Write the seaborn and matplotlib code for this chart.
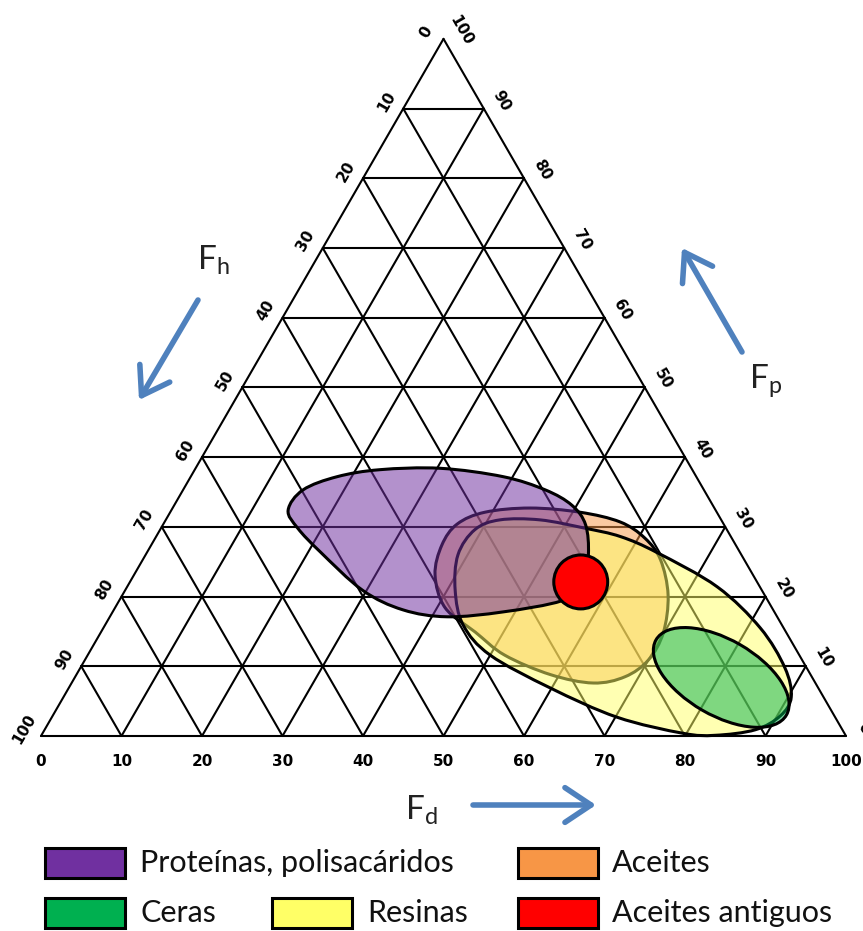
import numpy as np
import pandas as pd
import matplotlib
matplotlib.use("Agg")
import matplotlib.pyplot as plt
from matplotlib.path import Path
from matplotlib.patches import PathPatch, Ellipse, Rectangle
from matplotlib.colors import to_rgba
import seaborn as sns

# ---------------- data ----------------
ticks = [0, 10, 20, 30, 40, 50, 60, 70, 80, 90, 100]
grid_steps = [10, 20, 30, 40, 50, 60, 70, 80, 90]

categories = ["Proteínas, polisacáridos", "Aceites", "Ceras", "Resinas", "Aceites antiguos"]
cat_colors = ["#7030A0", "#F79646", "#00B050", "#FFFF66", "#FF0000"]

# region outlines, ternary coordinates (Fd, Fp); Fh = 100 - Fd - Fp
prot_fd = [14.5, 14.9, 18.2, 23.0, 30.4, 38.8, 45.0, 49.4, 52.5, 55.0, 56.5, 55.0, 48.5, 41.9, 35.9, 29.5, 21.5, 17.0]
prot_fp = [32.4, 35.3, 37.2, 38.2, 38.4, 37.2, 35.3, 33.1, 30.3, 26.0, 21.7, 19.4, 17.8, 17.1, 18.1, 20.9, 26.4, 29.8]

oil_fd = [37.4, 36.1, 36.5, 39.1, 44.4, 50.9, 56.6, 60.8, 64.3, 67.8, 69.9, 70.0, 68.3, 64.8, 58.9, 51.8, 46.5, 41.0]
oil_fp = [23.1, 27.4, 30.4, 32.1, 32.7, 32.1, 30.7, 28.4, 25.3, 20.2, 14.8, 10.9, 8.5, 7.6, 8.8, 11.6, 14.9, 18.4]

resin_fd = [41.0, 38.8, 39.1, 41.5, 46.5, 52.7, 57.7, 63.4, 73.3, 81.6, 87.5, 90.4, 90.4, 88.3, 83.7, 79.5, 70.2, 59.8, 50.0, 44.5]
resin_fp = [20.9, 26.0, 29.6, 31.0, 31.0, 29.8, 28.6, 26.3, 21.4, 15.5, 9.8, 5.6, 2.9, 0.9, 0.1, 0.4, 2.7, 6.9, 11.6, 15.9]

wax_center = (80.3, 8.4)      # (Fd, Fp)
wax_size = (18.7, 9.4)        # width, height in Fd units
wax_angle = -30.0

old_oil_center = (56.0, 22.1)
old_oil_diam = 6.7

# ---------------- helpers ----------------
SQ = np.sqrt(3) / 2
W, H = 863, 931
PXU = 8.05  # pixels per Fd unit


def tern(fd, fp):
    fd = np.asarray(fd, float)
    fp = np.asarray(fp, float)
    return fd + fp / 2.0, fp * SQ


def smooth_closed(xs, ys):
    pts = np.column_stack([xs, ys])
    n = len(pts)
    verts = [pts[0]]
    codes = [Path.MOVETO]
    for i in range(n):
        p0, p1, p2, p3 = pts[(i - 1) % n], pts[i], pts[(i + 1) % n], pts[(i + 2) % n]
        c1 = p1 + (p2 - p0) / 6.0
        c2 = p2 - (p3 - p1) / 6.0
        verts += [c1, c2, p2]
        codes += [Path.CURVE4] * 3
    verts.append(pts[0])
    codes.append(Path.CLOSEPOLY)
    return Path(verts, codes)


def fpx(px, py):
    return px / W, 1 - py / H


# ---------------- figure ----------------
sns.set_theme(style="white")
plt.rcParams["font.family"] = ["DejaVu Sans"]
plt.rcParams["mathtext.fontset"] = "custom"
plt.rcParams["mathtext.rm"] = "Lato"
plt.rcParams["mathtext.it"] = "Lato:italic"

fig = plt.figure(figsize=(W / 100, H / 100), dpi=100)
ax = fig.add_axes([0, 0, 1, 1])
ax.set_xlim(-41 / PXU, (W - 41) / PXU)
ax.set_ylim((736 - H) / PXU, 736 / PXU)
ax.axis("off")

# grid lines via seaborn
rows = []
seg = 0
for k in grid_steps + [0]:
    x, y = tern([0, 100 - k], [k, k])          # constant Fp
    rows += [(seg, x[0], y[0]), (seg, x[1], y[1])]; seg += 1
    x, y = tern([k, k], [0, 100 - k])          # constant Fd
    rows += [(seg, x[0], y[0]), (seg, x[1], y[1])]; seg += 1
    x, y = tern([100 - k, 0], [0, 100 - k])    # constant Fh
    rows += [(seg, x[0], y[0]), (seg, x[1], y[1])]; seg += 1
grid_df = pd.DataFrame(rows, columns=["seg", "x", "y"])
sns.lineplot(data=grid_df, x="x", y="y", units="seg", estimator=None, sort=False,
             color="black", linewidth=1.5, ax=ax, legend=False, zorder=1)

# regions
ox, oy = tern(oil_fd, oil_fp)
ax.add_patch(PathPatch(smooth_closed(ox, oy), fc=to_rgba(cat_colors[1], 0.5),
                       ec="black", lw=2.2, zorder=2))

rx, ry = tern(resin_fd, resin_fp)
ax.add_patch(PathPatch(smooth_closed(rx, ry), fc=to_rgba(cat_colors[3], 0.5),
                       ec="black", lw=2.2, zorder=3))

px_, py_ = tern(prot_fd, prot_fp)
ax.add_patch(PathPatch(smooth_closed(px_, py_), fc=to_rgba(cat_colors[0], 0.53),
                       ec="black", lw=2.2, zorder=4))

wx, wy = tern([wax_center[0]], [wax_center[1]])
ax.add_patch(Ellipse((wx[0], wy[0]), wax_size[0], wax_size[1], angle=wax_angle,
                     fc=to_rgba(cat_colors[2], 0.5), ec="black", lw=2.2, zorder=5))

cx, cy = tern([old_oil_center[0]], [old_oil_center[1]])
ax.add_patch(Ellipse((cx[0], cy[0]), old_oil_diam, old_oil_diam,
                     fc=cat_colors[4], ec="black", lw=2.2, zorder=6))

# tick labels
lab_kw = dict(fontsize=11, fontweight="bold", ha="center", va="center", color="black")
for t in ticks:
    bx, by = tern([t], [0])
    ax.text(bx[0], by[0] - 25 / PXU, str(t), **lab_kw)
    lx, ly = tern([0], [100 - t])
    ax.text(lx[0] - 17 / PXU, ly[0] + 7 / PXU, str(t), rotation=60, rotation_mode="anchor", **lab_kw)
    qx, qy = tern([100 - t], [t])
    ax.text(qx[0] + 18 / PXU, qy[0] + 8 / PXU, str(t), rotation=-60, rotation_mode="anchor", **lab_kw)

# axis names
name_kw = dict(fontsize=24, family="Lato", color="#222222", ha="left", va="baseline")
fig.text(*fpx(197, 270), r"F$_\mathrm{h}$", **name_kw)
fig.text(*fpx(749, 388), r"F$_\mathrm{p}$", **name_kw)
fig.text(*fpx(405, 820), r"F$_\mathrm{d}$", **name_kw)

# arrows
arrow_kw = dict(arrowstyle="->,head_length=0.75,head_width=0.5", color="#4F81BD", lw=4,
                mutation_scale=25, shrinkA=0, shrinkB=0)
for (t0, t1) in [((198, 300), (139, 400)), ((742, 352), (682, 248)), ((473, 805), (596, 805))]:
    ax.annotate("", xy=fpx(*t1), xycoords="figure fraction",
                xytext=fpx(*t0), textcoords="figure fraction", arrowprops=arrow_kw)

# legend
leg = [(0, 45, 848, 140), (1, 518, 848, 612), (2, 45, 898, 140), (3, 272, 898, 367), (4, 518, 898, 612)]
for i, bx0, by0, tx in leg:
    x0, y1 = fpx(bx0, by0 + 30)
    fig.add_artist(Rectangle((x0, y1), 80 / W, 30 / H, transform=fig.transFigure,
                             fc=cat_colors[i], ec="black", lw=2.2))
    fig.text(*fpx(tx, by0 + 15), categories[i], fontsize=22, family="Lato",
             ha="left", va="center", color="#111111")

fig.savefig("out.png", dpi=100)
